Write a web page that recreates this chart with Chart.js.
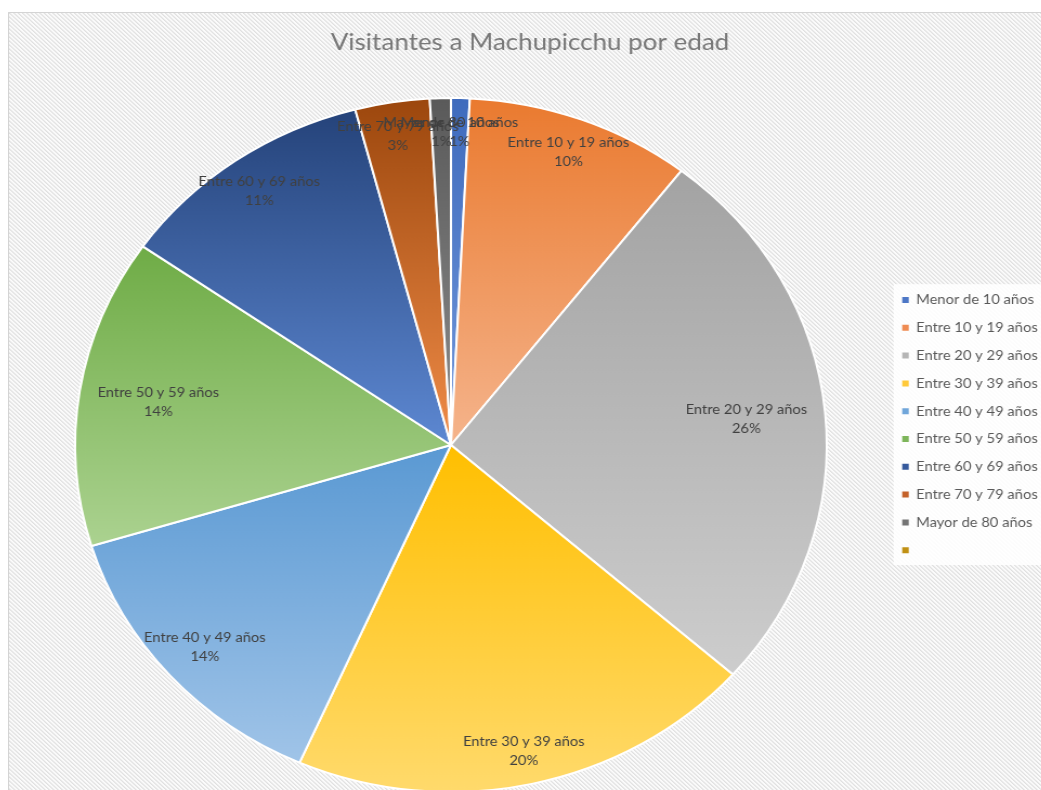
<!DOCTYPE html>
<html>
<head>
<meta charset="utf-8">
<title>Visitantes a Machupicchu por edad</title>
<script src="https://cdn.jsdelivr.net/npm/chart.js@4.4.1/dist/chart.umd.min.js"></script>
<style>
  html, body { margin: 0; padding: 0; background: #fff; overflow: hidden; width: 1041px; height: 790px; }
  /* the source picture is stretched sideways a little, so the chart is too */
  #wrap { position: absolute; left: 8px; top: 12px; width: 964px; height: 790px; transform: scaleX(1.083); transform-origin: 0 0; }
  #pieChart { display: block; width: 964px; height: 790px; }
</style>
</head>
<body>
<div id="wrap"><canvas id="pieChart" width="964" height="790"></canvas></div>
<script>
const chartTitle = 'Visitantes a Machupicchu por edad';
const categories = [
  'Menor de 10 años', 'Entre 10 y 19 años', 'Entre 20 y 29 años', 'Entre 30 y 39 años',
  'Entre 40 y 49 años', 'Entre 50 y 59 años', 'Entre 60 y 69 años', 'Entre 70 y 79 años',
  'Mayor de 80 años', ''
];
const shares = [0.8, 9.7, 26.0, 20.1, 13.7, 14.4, 11.2, 3.2, 0.9, 0];

// gradient fill per slice, darker at the top
const topColors = ['#3f6bbd', '#ea7a2f', '#a3a3a3', '#ffbf00', '#5a99d3', '#6fac46', '#25437a', '#9c470d', '#5a5a5a', '#997300'];
const bottomColors = ['#7399dc', '#f5b48c', '#cdcdcd', '#ffda6c', '#a0c4e8', '#abd290', '#5d88d2', '#f08c48', '#8c8c8c', '#d9a823'];
const legendColors = ['#4d77c6', '#ef8b52', '#b5b5b5', '#ffc93a', '#70a6da', '#7db55a', '#35599c', '#c4622a', '#747474', '#c09013'];

function hatchPattern(ctx) {
  const tile = document.createElement('canvas');
  tile.width = 4; tile.height = 4;
  const t = tile.getContext('2d');
  t.fillStyle = '#fbfbfb';
  t.fillRect(0, 0, 4, 4);
  t.fillStyle = '#e0e0e0';
  for (let i = 0; i < 4; i++) t.fillRect(i, i, 1, 1);
  t.fillStyle = '#ececec';
  for (let i = 0; i < 4; i++) t.fillRect((i + 1) % 4, i, 1, 1);
  return ctx.createPattern(tile, 'repeat');
}

const backdrop = {
  id: 'backdrop',
  beforeDraw(chart) {
    const { ctx, width, height } = chart;
    ctx.save();
    ctx.fillStyle = hatchPattern(ctx);
    ctx.fillRect(0, 0, width, height);
    ctx.strokeStyle = '#d4d4d4';
    ctx.lineWidth = 1;
    ctx.beginPath();
    ctx.moveTo(0.5, height);
    ctx.lineTo(0.5, 0.5);
    ctx.lineTo(width, 0.5);
    ctx.stroke();

    // white card behind the legend
    const boxes = chart.legend && chart.legend.legendHitBoxes;
    if (boxes && boxes.length) {
      const first = boxes[0], last = boxes[boxes.length - 1];
      const top = first.top - 9;
      const bottom = last.top + last.height + 8;
      ctx.fillStyle = 'rgba(255,255,255,0.88)';
      ctx.fillRect(first.left - 8, top, width, bottom - top);
    }
    ctx.restore();
  }
};

const sliceGradient = {
  id: 'sliceGradient',
  beforeDatasetsDraw(chart) {
    const { ctx } = chart;
    chart.getDatasetMeta(0).data.forEach((arc, i) => {
      const { x, y, startAngle, endAngle, outerRadius } = arc;
      let minY = y, maxY = y;
      for (let k = 0; k <= 60; k++) {
        const a = startAngle + (endAngle - startAngle) * k / 60;
        const py = y + Math.sin(a) * outerRadius;
        minY = Math.min(minY, py);
        maxY = Math.max(maxY, py);
      }
      const g = ctx.createLinearGradient(0, minY, 0, maxY + 0.01);
      g.addColorStop(0, topColors[i]);
      g.addColorStop(1, bottomColors[i]);
      arc.options.backgroundColor = g;
    });
  }
};

const sliceLabels = {
  id: 'sliceLabels',
  afterDatasetsDraw(chart) {
    const { ctx } = chart;
    const total = shares.reduce((a, b) => a + b, 0);
    ctx.save();
    ctx.font = '13.6px Lato';
    ctx.fillStyle = '#404040';
    ctx.textAlign = 'center';
    ctx.textBaseline = 'middle';
    chart.getDatasetMeta(0).data.forEach((arc, i) => {
      if (!shares[i]) return;
      const lines = [categories[i], Math.round(shares[i] / total * 100) + '%'];
      const hw = Math.max(...lines.map(l => ctx.measureText(l).width)) / 2 + 2;
      const hh = 19;
      const mid = (arc.startAngle + arc.endAngle) / 2;
      const cx = Math.cos(mid), cy = Math.sin(mid);
      const t = Math.min(
        Math.abs(cx) > 1e-6 ? hw / Math.abs(cx) : Infinity,
        Math.abs(cy) > 1e-6 ? hh / Math.abs(cy) : Infinity
      );
      const d = arc.outerRadius * 0.958 - t;
      const x = arc.x + cx * d, y = arc.y + cy * d;
      ctx.fillText(lines[0], x, y - 9.5);
      ctx.fillText(lines[1], x, y + 9.5);
    });
    ctx.restore();
  }
};

document.fonts.load('14px Lato').then(() => {
  new Chart(document.getElementById('pieChart'), {
    type: 'pie',
    data: {
      labels: categories,
      datasets: [{
        data: shares,
        backgroundColor: legendColors,
        borderColor: '#ffffff',
        borderWidth: 2
      }]
    },
    options: {
      responsive: false,
      animation: false,
      events: [],
      layout: { padding: { left: 6.5, right: 6.5, top: 0, bottom: 9 } },
      plugins: {
        title: {
          display: true,
          text: chartTitle,
          color: '#787878',
          font: { family: 'Lato', size: 24, weight: 'normal' },
          padding: { top: 15.6, bottom: 40.6 }
        },
        legend: {
          position: 'right',
          align: 'start',
          maxWidth: 146,
          title: { display: true, text: ' ', font: { size: 10, lineHeight: 1 }, padding: { top: 257, bottom: 0 } },
          labels: {
            boxWidth: 6,
            boxHeight: 6,
            padding: 14.2,
            color: '#595959',
            font: { family: 'Lato', size: 13.6 },
            generateLabels(c) {
              return Chart.overrides.pie.plugins.legend.labels.generateLabels(c)
                .map((item, i) => ({ ...item, fillStyle: legendColors[i], strokeStyle: legendColors[i], lineWidth: 0 }));
            }
          }
        },
        tooltip: { enabled: false }
      }
    },
    plugins: [backdrop, sliceGradient, sliceLabels]
  });
});
</script>
</body>
</html>
